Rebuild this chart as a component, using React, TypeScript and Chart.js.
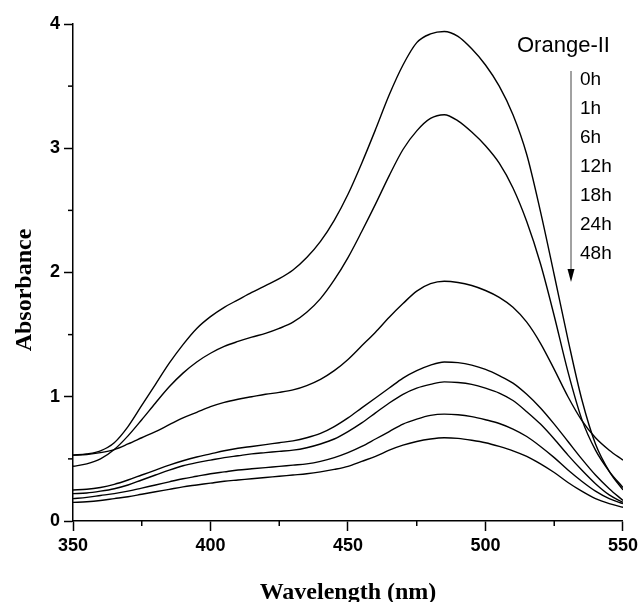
import React, { useEffect, useRef } from "react";
import { Chart, registerables } from "chart.js";

Chart.register(...registerables);

const wavelengths = [
  350, 355, 360, 365, 370, 375, 380, 385, 390, 395, 400, 405, 410, 415, 420, 425, 430, 435, 440, 445,
  450, 455, 460, 465, 470, 475, 480, 485, 490, 495, 500, 505, 510, 515, 520, 525, 530, 535, 540, 545, 550,
];

const abs0h = [
  0.53, 0.54, 0.565, 0.63, 0.76, 0.93, 1.1, 1.27, 1.42, 1.55, 1.645, 1.72, 1.78, 1.84, 1.895, 1.95, 2.02, 2.12, 2.25, 2.42,
  2.63, 2.88, 3.15, 3.43, 3.67, 3.85, 3.92, 3.94, 3.9, 3.8, 3.67, 3.5, 3.27, 2.95, 2.49, 1.98, 1.46, 0.98, 0.62, 0.4, 0.25,
];
const abs1h = [
  0.44, 0.46, 0.5, 0.575, 0.685, 0.815, 0.95, 1.08, 1.19, 1.28, 1.35, 1.405, 1.445, 1.48, 1.51, 1.55, 1.6, 1.68, 1.79, 1.94,
  2.12, 2.33, 2.55, 2.78, 2.99, 3.14, 3.24, 3.27, 3.22, 3.13, 3.02, 2.88, 2.68, 2.41, 2.07, 1.65, 1.2, 0.82, 0.57, 0.4, 0.27,
];
const abs6h = [
  0.53, 0.535, 0.55, 0.575, 0.62, 0.67, 0.72, 0.775, 0.83, 0.875, 0.92, 0.955, 0.98, 1.0, 1.02, 1.035, 1.055, 1.09, 1.14, 1.21,
  1.3, 1.41, 1.52, 1.64, 1.75, 1.85, 1.91, 1.93, 1.92, 1.895, 1.855, 1.8, 1.72, 1.6, 1.43, 1.22, 1.0, 0.81, 0.67, 0.57, 0.49,
];
const abs12h = [
  0.25, 0.255, 0.27, 0.295, 0.33, 0.37, 0.41, 0.45, 0.485, 0.515, 0.54, 0.565, 0.585, 0.6, 0.615, 0.63, 0.645, 0.67, 0.705, 0.76,
  0.83, 0.91, 0.99, 1.07, 1.15, 1.21, 1.255, 1.28, 1.275, 1.255, 1.22, 1.17, 1.11, 1.02, 0.91, 0.78, 0.64, 0.5, 0.37, 0.26, 0.165,
];
const abs18h = [
  0.22, 0.225, 0.24, 0.26, 0.29, 0.33, 0.37, 0.41, 0.445, 0.47, 0.49, 0.51, 0.525, 0.54, 0.55, 0.56, 0.57, 0.59, 0.62, 0.66,
  0.72, 0.79, 0.87, 0.95, 1.02, 1.07, 1.1, 1.12, 1.115, 1.1, 1.07, 1.03, 0.97, 0.88, 0.78, 0.66, 0.53, 0.41, 0.3, 0.21, 0.15,
];
const abs24h = [
  0.18, 0.19, 0.205, 0.22, 0.24, 0.265, 0.29, 0.315, 0.34, 0.36, 0.38, 0.395, 0.41, 0.42, 0.43, 0.44, 0.45, 0.46, 0.48, 0.51,
  0.55, 0.6, 0.66, 0.72, 0.78, 0.82, 0.85, 0.86, 0.855, 0.84, 0.815, 0.785, 0.74, 0.68, 0.6, 0.51, 0.41, 0.32, 0.24, 0.18, 0.14,
];
const abs48h = [
  0.15, 0.155, 0.165, 0.18, 0.195, 0.215, 0.235, 0.255, 0.275, 0.29, 0.305, 0.32, 0.33, 0.34, 0.35, 0.36, 0.37, 0.38, 0.395, 0.415,
  0.44, 0.48, 0.52, 0.57, 0.61, 0.64, 0.66, 0.67, 0.665, 0.65, 0.63, 0.6, 0.565, 0.52, 0.46, 0.39, 0.31, 0.24, 0.18, 0.14, 0.11,
];

const seriesLabels = ["0h", "1h", "6h", "12h", "18h", "24h", "48h"];
const seriesValues = [abs0h, abs1h, abs6h, abs12h, abs18h, abs24h, abs48h];
const legendTitle = "Orange-II";
const xTitle = "Wavelength (nm)";
const yTitle = "Absorbance";
const xMinorTicks = [375, 425, 475, 525];
const yMinorTicks = [0.5, 1.5, 2.5, 3.5];

const SANS = '"Liberation Sans", Arial, sans-serif';
const SERIF = '"Liberation Serif", "Times New Roman", serif';

const decorPlugin = {
  id: "decor",
  afterDraw(chart: any) {
    const { ctx, chartArea, scales } = chart;
    const x = scales.x;
    const y = scales.y;
    ctx.save();
    ctx.strokeStyle = "#000";
    ctx.lineWidth = 1.5;
    for (const v of xMinorTicks) {
      const px = x.getPixelForValue(v);
      ctx.beginPath();
      ctx.moveTo(px, chartArea.bottom);
      ctx.lineTo(px, chartArea.bottom + 5);
      ctx.stroke();
    }
    for (const v of yMinorTicks) {
      const py = y.getPixelForValue(v);
      ctx.beginPath();
      ctx.moveTo(chartArea.left - 5, py);
      ctx.lineTo(chartArea.left, py);
      ctx.stroke();
    }
    ctx.fillStyle = "#000";
    ctx.font = `bold 24px ${SERIF}`;
    ctx.textAlign = "center";
    ctx.textBaseline = "middle";
    ctx.fillText(xTitle, (chartArea.left + chartArea.right) / 2, 593);
    ctx.save();
    ctx.translate(25, 290);
    ctx.rotate(-Math.PI / 2);
    ctx.fillText(yTitle, 0, 0);
    ctx.restore();
    ctx.font = `22px ${SANS}`;
    ctx.textAlign = "left";
    ctx.fillText(legendTitle, 517, 46);
    ctx.font = `19px ${SANS}`;
    seriesLabels.forEach((lab, i) => {
      ctx.fillText(lab, 580, 80 + i * 29);
    });
    ctx.strokeStyle = "#444";
    ctx.lineWidth = 1;
    ctx.beginPath();
    ctx.moveTo(571, 71);
    ctx.lineTo(571, 272);
    ctx.stroke();
    ctx.fillStyle = "#000";
    ctx.beginPath();
    ctx.moveTo(567.5, 269);
    ctx.lineTo(574.5, 269);
    ctx.lineTo(571, 282);
    ctx.closePath();
    ctx.fill();
    ctx.restore();
  },
};

export default function App() {
  const ref = useRef<HTMLCanvasElement>(null);
  useEffect(() => {
    if (!ref.current) return;
    const chart = new Chart(ref.current, {
      type: "line",
      data: {
        labels: wavelengths,
        datasets: seriesValues.map((vals, i) => ({
          label: seriesLabels[i],
          data: vals.map((v, j) => ({ x: wavelengths[j], y: v })),
          borderColor: "#000",
          backgroundColor: "#000",
          borderWidth: 1.4,
          pointRadius: 0,
          tension: 0.4,
          cubicInterpolationMode: "monotone",
          fill: false,
        })),
      },
      options: {
        animation: false,
        responsive: false,
        maintainAspectRatio: false,
        layout: { padding: { top: 24, right: 17, left: 0, bottom: 0 } },
        plugins: {
          legend: { display: false },
          tooltip: { enabled: false },
          title: { display: false },
        },
        scales: {
          x: {
            type: "linear",
            min: 350,
            max: 550,
            border: { display: true, color: "#000", width: 1.5 },
            grid: {
              drawOnChartArea: false,
              drawTicks: true,
              tickLength: 10,
              tickColor: "#000",
              tickWidth: 1.5,
            },
            ticks: {
              stepSize: 50,
              color: "#000",
              padding: 4,
              maxRotation: 0,
              font: { family: SANS, size: 18, weight: "bold" },
            },
            afterFit(scale: any) {
              scale.height = 81;
            },
          },
          y: {
            type: "linear",
            min: 0,
            max: 4,
            border: { display: true, color: "#000", width: 1.5 },
            grid: {
              drawOnChartArea: false,
              drawTicks: true,
              tickLength: 9,
              tickColor: "#000",
              tickWidth: 1.5,
            },
            ticks: {
              stepSize: 1,
              color: "#000",
              padding: 4,
              font: { family: SANS, size: 18, weight: "bold" },
            },
            afterFit(scale: any) {
              scale.width = 73;
            },
          },
        },
      },
      plugins: [decorPlugin],
    });
    return () => chart.destroy();
  }, []);
  return (
    <div style={{ position: "absolute", left: 0, top: 0, width: 642, height: 602, background: "#fff" }}>
      <canvas ref={ref} width={642} height={602} style={{ width: 642, height: 602, display: "block" }} />
    </div>
  );
}
